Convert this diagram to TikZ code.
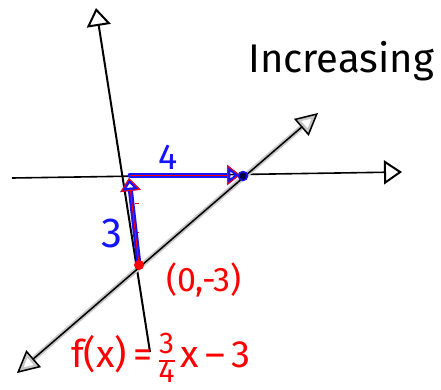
\documentclass[tikz,border=0pt]{standalone}
\usepackage{fontspec}
\setmainfont{Fira Sans}
\usetikzlibrary{arrows.meta}
\definecolor{pred}{RGB}{255,0,0}
\definecolor{pblue}{RGB}{20,20,255}
\tikzset{
  axisline/.style={black, line width=2pt},
  axtip/.style={-{Triangle[open,length=18pt,width=24pt,line width=2pt]}},
  glowline/.style={black!22, line width=5pt, {Triangle[open,length=22pt,width=22pt,line width=4pt]}-{Triangle[open,length=22pt,width=22pt,line width=4pt]}},
  diagline/.style={black, line width=1.5pt, {Triangle[open,length=22pt,width=22pt,line width=1.5pt]}-{Triangle[open,length=22pt,width=22pt,line width=1.5pt]}},
  bluepen/.style={pblue, line width=5pt, line cap=round, -{Triangle[open,length=13pt,width=20pt,line width=4pt]}},
  redpen/.style={pred, line width=1pt, line cap=round, -{Triangle[open,length=13pt,width=20pt,line width=1pt]}},
  redtxt/.style={text=pred, inner sep=0pt},
  bluetxt/.style={text=pblue, inner sep=0pt},
}
\newcommand{\myfrac}[2]{{\fontsize{30}{30}\selectfont\setlength{\arrayrulewidth}{1.4pt}\renewcommand{\arraystretch}{0.8}\begin{tabular}[c]{@{}c@{}}#1\\\hline #2\end{tabular}}}
\begin{document}
\begin{tikzpicture}[x=1pt,y=-1pt]
\useasboundingbox (0,0) rectangle (441,389);
% coordinates
\coordinate (yB) at (150,352);
\coordinate (yT) at (96,8);
\coordinate (xL) at (12,178);
\coordinate (xR) at (402,172);
\coordinate (dL) at (17,373);
\coordinate (dR) at (318,113);
\coordinate (P) at (139,265);
\coordinate (O) at (129,178);
\coordinate (O2) at (130,175);
\coordinate (Q) at (240,175);
\coordinate (X) at (243,176);
% axes
\draw[axisline, axtip] (yB) -- (yT);
\draw[axisline, line width=1.6pt, axtip] (xL) -- (xR);
% line with glow
\draw[glowline] (dL) -- (dR);
\draw[diagline] (dL) -- (dR);
% ticks
\draw[pred, line width=1pt] (135,203) -- (139,203);
\draw[pred, line width=1pt] (135,232) -- (139,232);
% blue arrows
\draw[bluepen] (P) -- (O);
\draw[redpen] (P) -- (O);
\draw[bluepen] (O2) -- (Q);
\draw[redpen] (O2) -- (Q);
% dots
\node[circle, fill=pred, minimum size=10pt, inner sep=0pt] (dotP) at (P) {};
\node[circle, fill=black!70!blue, draw=pblue, line width=1.5pt, minimum size=9pt, inner sep=0pt] (dotX) at (X) {};
% labels
\node[bluetxt, font=\fontsize{36}{36}\selectfont] (four) at (168,157) {4};
\node[bluetxt, font=\fontsize{42}{42}\selectfont] (three) at (112,233) {3};
\node[redtxt, font=\fontsize{34}{34}\selectfont] (pt) at (204,280) {(0,-3)};
\node[redtxt, font=\fontsize{38}{38}\selectfont] (eq) at (161,361)
  {f(x)\,=\,\myfrac{3}{4}\,x\,–\,3};
\node[anchor=base west, inner sep=0pt, font=\fontsize{40}{40}\selectfont] (inc) at (248,72) {Increasing};
\end{tikzpicture}
\end{document}
